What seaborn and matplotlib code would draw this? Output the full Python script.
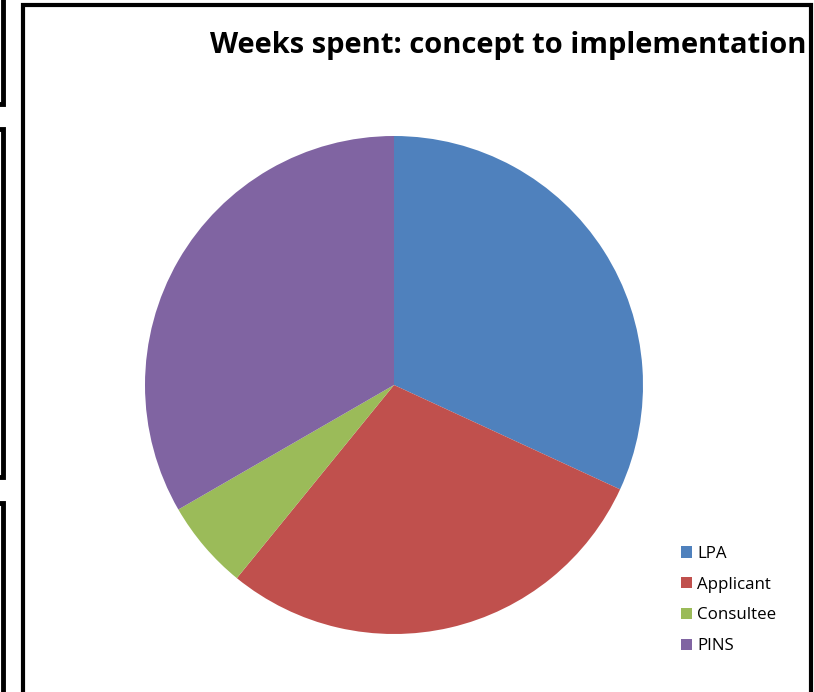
import matplotlib
matplotlib.use("Agg")
import matplotlib.pyplot as plt
from matplotlib.lines import Line2D
from matplotlib.patches import Patch
import seaborn as sns

# Data
categories = ["LPA", "Applicant", "Consultee", "PINS"]
weeks = [11, 10, 2, 11.5]
colors = ["#4F81BD", "#C0504D", "#9BBB59", "#8064A2"]
title = "Weeks spent: concept to implementation"

sns.set_theme(style="white")
plt.rcParams['font.family'] = ['Open Sans', 'DejaVu Sans']

W, H = 814, 692
fig = plt.figure(figsize=(W / 100, H / 100), dpi=100)
fig.patch.set_facecolor("white")

def fx(x):
    return x / W

def fy(y):
    return 1 - y / H

# Pie axes: centre (394, 385) px, radius 249 px
cx, cy, r = 394, 385, 249
ax = fig.add_axes([fx(cx - r), fy(cy + r), 2 * r / W, 2 * r / H])
palette = sns.color_palette(colors)
wedges, _ = ax.pie(weeks, colors=palette, startangle=90, counterclock=False,
                   radius=1.0, wedgeprops=dict(linewidth=0))
ax.set_xlim(-1, 1)
ax.set_ylim(-1, 1)
ax.set_aspect('auto')
ax.axis('off')

# Title
fig.text(fx(508), fy(46), title, ha='center', va='center',
         fontsize=21, fontweight='bold', color='black')

# Legend
handles = [Patch(facecolor=c, edgecolor='none') for c in palette]
leg = fig.legend(handles, categories, loc='upper left',
                 bbox_to_anchor=(fx(681), fy(546)),
                 frameon=False, fontsize=12.2, handlelength=0.65,
                 handleheight=0.65, handletextpad=0.3, labelspacing=0.87,
                 borderpad=0, borderaxespad=0)
for t in leg.get_texts():
    t.set_color('black')

# Frames
def line(xs, ys, lw, color='black'):
    fig.add_artist(Line2D([fx(x) for x in xs], [fy(y) for y in ys],
                          transform=fig.transFigure, color=color, lw=lw,
                          solid_capstyle='butt', solid_joinstyle='miter'))

# main chart frame
line([23, 23, 811, 811], [H + 5, 5, 5, H + 5], lw=3)
line([811, 811], [5, H + 5], lw=1.6)
# partial boxes at the left edge
line([-5, 2.5, 2.5], [104, 104, -5], lw=3.5)
line([-5, 2.5, 2.5, -5], [129, 129, 477, 477], lw=3.5)
line([-5, 2.5, 2.5], [503, 503, H + 5], lw=3.5)

fig.savefig("out.png", dpi=100, facecolor="white")
